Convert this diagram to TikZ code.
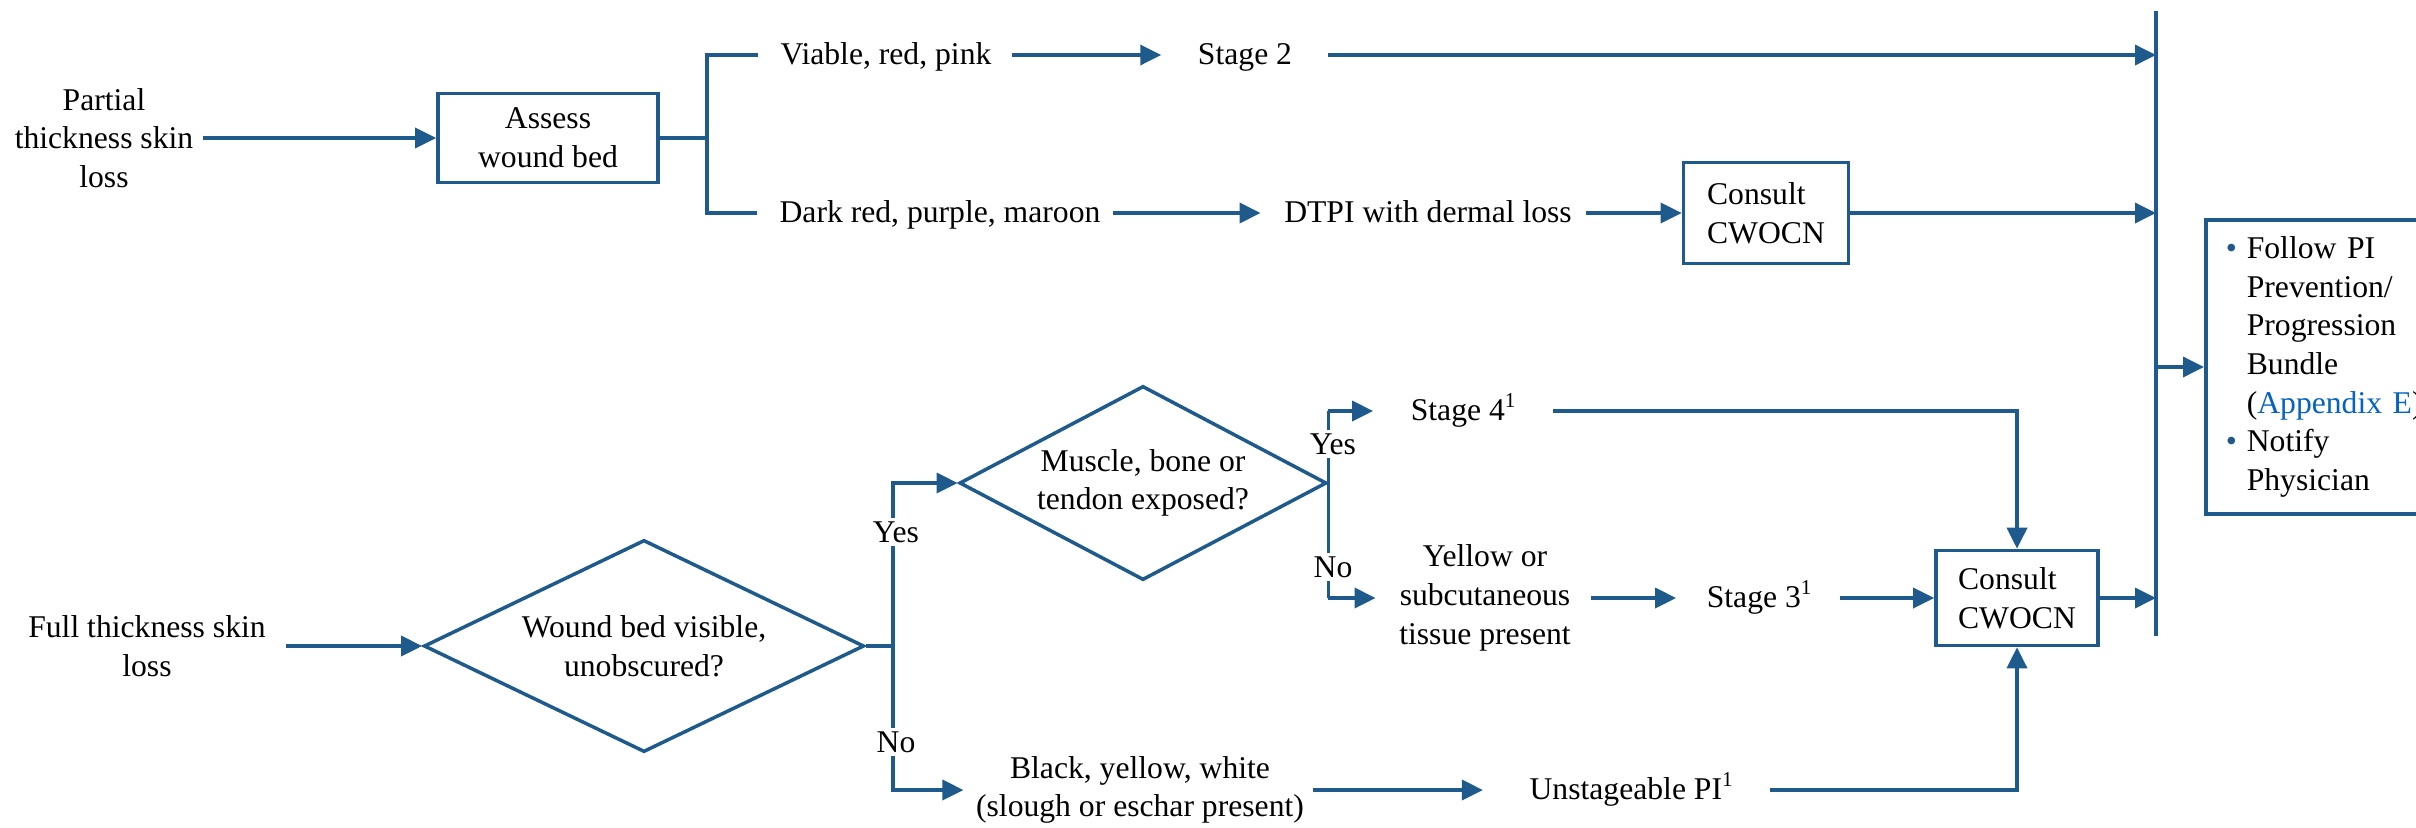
\documentclass[tikz,border=0pt]{standalone}
\usepackage{fontspec}
\setmainfont{Liberation Serif}
\usepackage{tikz}
\usetikzlibrary{arrows.meta,shapes.geometric}
\definecolor{pblue}{RGB}{31,90,140}
\definecolor{lnk}{HTML}{0563C1}
\newcommand{\pbul}{\makebox[2.1mm][l]{\textcolor{pblue}{\small\textbullet}}}
\newcommand{\pind}{\hspace*{2.1mm}}

\begin{document}
\begin{tikzpicture}[x=0.01cm,y=-0.01cm,
	every node/.style={font=\fontsize{9pt}{11pt}\selectfont, inner sep=0pt},
	txt/.style={text height=1.6ex, text depth=0.4ex},
	ln/.style={draw=pblue, line width=1pt},
	arr/.style={ln, -{Triangle[length=2.1mm,width=2mm]}},
	box/.style={draw=pblue, line width=1pt},
	dec/.style={diamond, draw=pblue, line width=1pt, aspect=2, align=center},
	lab/.style={fill=white, inner sep=1pt}]
\useasboundingbox (0,0) rectangle (2416,827);
\clip (0,0) rectangle (2416,827);

\node [align=center] (pt) at (104,138) {Partial\\thickness skin\\loss};
\node [box, align=center, minimum width=2.2cm, minimum height=0.89cm] (ab) at (548,138) {Assess\\wound bed};
\coordinate (s1) at (707,138);
\node [txt] (vr) at (886,55) {Viable, red, pink};
\node [txt] (s2) at (1245,55) {Stage 2};
\node [txt] (dr) at (940,213) {Dark red, purple, maroon};
\node [txt] (dt) at (1428,213) {DTPI with dermal loss};
\node [box, align=left, minimum width=1.65cm, minimum height=1.01cm] (c1) at (1766,213) {Consult\\CWOCN};
\coordinate (bt) at (2156,11);
\coordinate (bb) at (2156,636);
\node [box, anchor=west, align=left, text width=2.3cm, inner xsep=2mm, minimum height=2.94cm] (fb) at (2204,367)
	{\pbul Follow PI\\\pind Prevention/\\\pind Progression\\\pind Bundle\\\pind (\textcolor{lnk}{Appendix E})\\\pbul Notify\\\pind Physician};

\node [align=center] (ft) at (147,646) {Full thickness skin\\loss};
\node [dec, minimum width=4.4cm, minimum height=2.12cm] (d1) at (644,646) {Wound bed visible,\\unobscured?};
\coordinate (s3) at (893,646);
\node [dec, minimum width=3.67cm, minimum height=1.94cm] (d2) at (1143,483) {Muscle, bone or\\tendon exposed?};
\node [txt] (s4) at (1464,411) {Stage 4\textsuperscript{1}};
\node [align=center] (yt) at (1485,598) {Yellow or\\subcutaneous\\tissue present};
\node [txt] (s3t) at (1760,598) {Stage 3\textsuperscript{1}};
\node [box, align=left, minimum width=1.62cm, minimum height=0.95cm] (c2) at (2017,598) {Consult\\CWOCN};
\node [align=center] (bw) at (1140,790) {Black, yellow, white\\(slough or eschar present)};
\node [txt] (un) at (1632,790) {Unstageable PI\textsuperscript{1}};

\draw [arr, shorten <=0.9mm] (pt) -- (ab);
\draw [ln] (ab) -- (s1);
\draw [ln, shorten >=2.2mm] (s1) |- (vr);
\draw [ln, shorten >=2.2mm] (s1) |- (dr);
\draw [arr, shorten <=2mm, shorten >=3.6mm] (vr) -- (s2);
\draw [arr, shorten <=3.5mm] (s2) -- (s2 -| bt);
\draw [arr, shorten <=1.2mm, shorten >=2.3mm] (dr) -- (dt);
\draw [arr, shorten <=1.4mm] (dt) -- (c1);
\draw [arr] (c1) -- (c1 -| bt);
\draw [ln] (bt) -- (bb);
\draw [arr] (fb.west -| bt) -- (fb.west);

\draw [arr, shorten <=2mm] (ft) -- (d1);
\draw [ln] (d1) -- (s3);
\draw [arr] (s3) |- (d2);
\draw [arr, shorten >=1.2mm] (s3) |- (bw);
\draw [ln] (d2.east |- s4) -- (d2.east |- yt);
\draw [arr, shorten >=3.7mm] (d2.east |- s4) -- (s4);
\draw [arr, shorten >=2.3mm] (d2.east |- yt) -- (yt);
\draw [arr, shorten <=2mm, shorten >=3mm] (yt) -- (s3t);
\draw [arr, shorten <=2.6mm] (s3t) -- (c2);
\draw [arr] (c2) -- (c2 -| bt);
\draw [arr, shorten <=3.5mm] (s4) -| (c2);
\draw [arr, shorten <=0.8mm, shorten >=4.6mm] (bw) -- (un);
\draw [arr, shorten <=3.5mm] (un) -| (c2);

\node [lab] (y1) at (896,532) {Yes};
\node [lab] (n1) at (896,742) {No};
\node [lab] (y2) at (1333,444) {Yes};
\node [lab] (n2) at (1333,567) {No};
\end{tikzpicture}
\end{document}
